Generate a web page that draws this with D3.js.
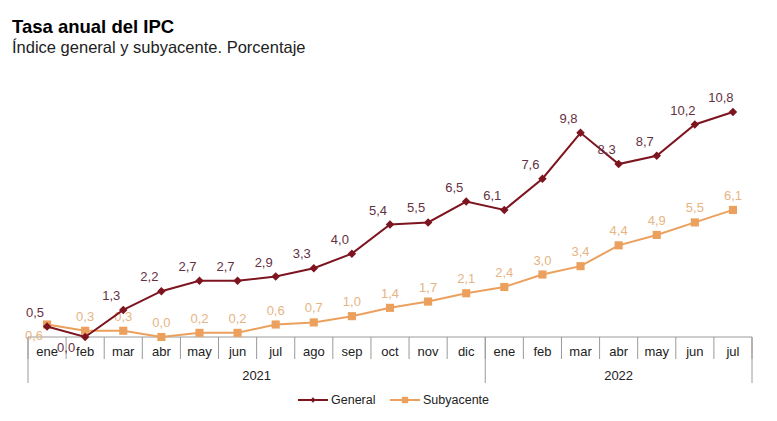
<!DOCTYPE html>
<head>
<meta charset="utf-8">
<style>
body { margin: 0; background: #fff; }
svg text { font-family: "Liberation Sans", Arial, sans-serif; }
.title { font-size: 18.5px; font-weight: bold; fill: #000; }
.subtitle { font-size: 16.5px; fill: #222; }
.axis line { stroke: #9a9a9a; stroke-width: 1; }
.month text, .year text { font-size: 13px; fill: #222; text-anchor: middle; }
.lbl-general { font-size: 13px; fill: #643142; text-anchor: middle; }
.lbl-sub { font-size: 13px; fill: #e6b584; text-anchor: middle; }
.legend text { font-size: 12.5px; fill: #222; }
</style>
</head>
<body>
<svg width="777" height="421"></svg>
<script src="https://cdn.jsdelivr.net/npm/d3@7"></script>
<script>

/* global d3 */

const months = ['ene', 'feb', 'mar', 'abr', 'may', 'jun', 'jul', 'ago', 'sep', 'oct', 'nov', 'dic',
  'ene', 'feb', 'mar', 'abr', 'may', 'jun', 'jul']
const years = [{label: '2021', count: 12}, {label: '2022', count: 7}]
const general = [0.5, 0.0, 1.3, 2.2, 2.7, 2.7, 2.9, 3.3, 4.0, 5.4, 5.5, 6.5,
  6.1, 7.6, 9.8, 8.3, 8.7, 10.2, 10.8]
const subyacente = [0.6, 0.3, 0.3, 0.0, 0.2, 0.2, 0.6, 0.7, 1.0, 1.4, 1.7, 2.1,
  2.4, 3.0, 3.4, 4.4, 4.9, 5.5, 6.1]
// labels that sit under their point instead of above
const generalBelow = [1]
const subBelow = [0]

const colors = {general: '#7d1520', sub: '#eba05e'}
const plot = {left: 28, right: 752, top: 112, bottom: 337}

let svg = d3.select('svg')

let x = d3.scaleBand()
  .domain(d3.range(months.length))
  .range([plot.left, plot.right])

let y = d3.scaleLinear()
  .domain([0, 10.8])
  .range([plot.bottom, plot.top])

const fmt = v => d3.format('.1f')(v).replace('.', ',')
const cx = i => x(i) + x.bandwidth() / 2

// titles
svg.append('text').attr('class', 'title').attr('x', 12).attr('y', 33).text('Tasa anual del IPC')
svg.append('text').attr('class', 'subtitle').attr('x', 12).attr('y', 53).text('Índice general y subyacente. Porcentaje')

// category axis: months then years
let axis = svg.append('g').attr('class', 'axis')

axis.append('line')
  .attr('x1', plot.left).attr('x2', plot.right)
  .attr('y1', plot.bottom).attr('y2', plot.bottom)

let monthG = axis.append('g').attr('class', 'month')
monthG.selectAll('line')
  .data(d3.range(months.length + 1))
  .enter()
  .append('line')
    .attr('x1', i => i < months.length ? x(i) : plot.right)
    .attr('x2', i => i < months.length ? x(i) : plot.right)
    .attr('y1', plot.bottom)
    .attr('y2', plot.bottom + 22)
monthG.selectAll('text')
  .data(months)
  .enter()
  .append('text')
    .attr('x', (d, i) => cx(i))
    .attr('y', plot.bottom + 19)
    .text(d => d)

let yearStarts = []
years.reduce((acc, yr) => { yearStarts.push(acc); return acc + yr.count }, 0)

let yearG = axis.append('g').attr('class', 'year')
yearG.selectAll('line')
  .data(yearStarts.concat([months.length]))
  .enter()
  .append('line')
    .attr('x1', i => i < months.length ? x(i) : plot.right)
    .attr('x2', i => i < months.length ? x(i) : plot.right)
    .attr('y1', plot.bottom)
    .attr('y2', plot.bottom + 46)
yearG.selectAll('text')
  .data(years)
  .enter()
  .append('text')
    .attr('x', (d, i) => (x(yearStarts[i]) + x(yearStarts[i] + d.count - 1) + x.bandwidth()) / 2)
    .attr('y', plot.bottom + 43)
    .text(d => d.label)

// series
const line = d3.line().x((d, i) => cx(i)).y(d => y(d))

function seriesLayer(values, color, size, rotate, labelClass, below, dx, belowDx) {
  let g = svg.append('g')
  g.append('path')
    .datum(values)
    .attr('d', line)
    .attr('fill', 'none')
    .attr('stroke', color)
    .attr('stroke-width', 2)
  g.selectAll('path.mark')
    .data(values)
    .enter()
    .append('path')
      .attr('class', 'mark')
      .attr('d', d3.symbol().type(d3.symbolSquare).size(size))
      .attr('transform', (d, i) => `translate(${cx(i)},${y(d)})` + (rotate ? ' rotate(45)' : ''))
      .attr('fill', color)
  g.selectAll('text')
    .data(values)
    .enter()
    .append('text')
      .attr('class', labelClass)
      .attr('x', (d, i) => cx(i) + (below.includes(i) ? belowDx : dx))
      .attr('y', (d, i) => y(d) + (below.includes(i) ? 15 : -10))
      .text(d => fmt(d))
}

seriesLayer(subyacente, colors.sub, 66, false, 'lbl-sub', subBelow, 0, -13)
seriesLayer(general, colors.general, 36, true, 'lbl-general', generalBelow, -12, -19)

// legend
let legend = svg.append('g').attr('class', 'legend').attr('transform', 'translate(0, 400)')
const legendItems = [
  {name: 'General', color: colors.general, size: 14, rot: true, x: 298},
  {name: 'Subyacente', color: colors.sub, size: 40, rot: false, x: 390}
]
let item = legend.selectAll('g')
  .data(legendItems)
  .enter()
  .append('g')
    .attr('transform', d => `translate(${d.x}, 0)`)
item.append('line')
  .attr('x1', 0).attr('x2', 30).attr('y1', 0).attr('y2', 0)
  .attr('stroke', d => d.color).attr('stroke-width', 2)
item.append('path')
  .attr('d', d => d3.symbol().type(d3.symbolSquare).size(d.size)())
  .attr('transform', d => `translate(15, 0)` + (d.rot ? ' rotate(45)' : ''))
  .attr('fill', d => d.color)
item.append('text')
  .attr('x', 33)
  .attr('y', 4)
  .text(d => d.name)

</script>
</body>
